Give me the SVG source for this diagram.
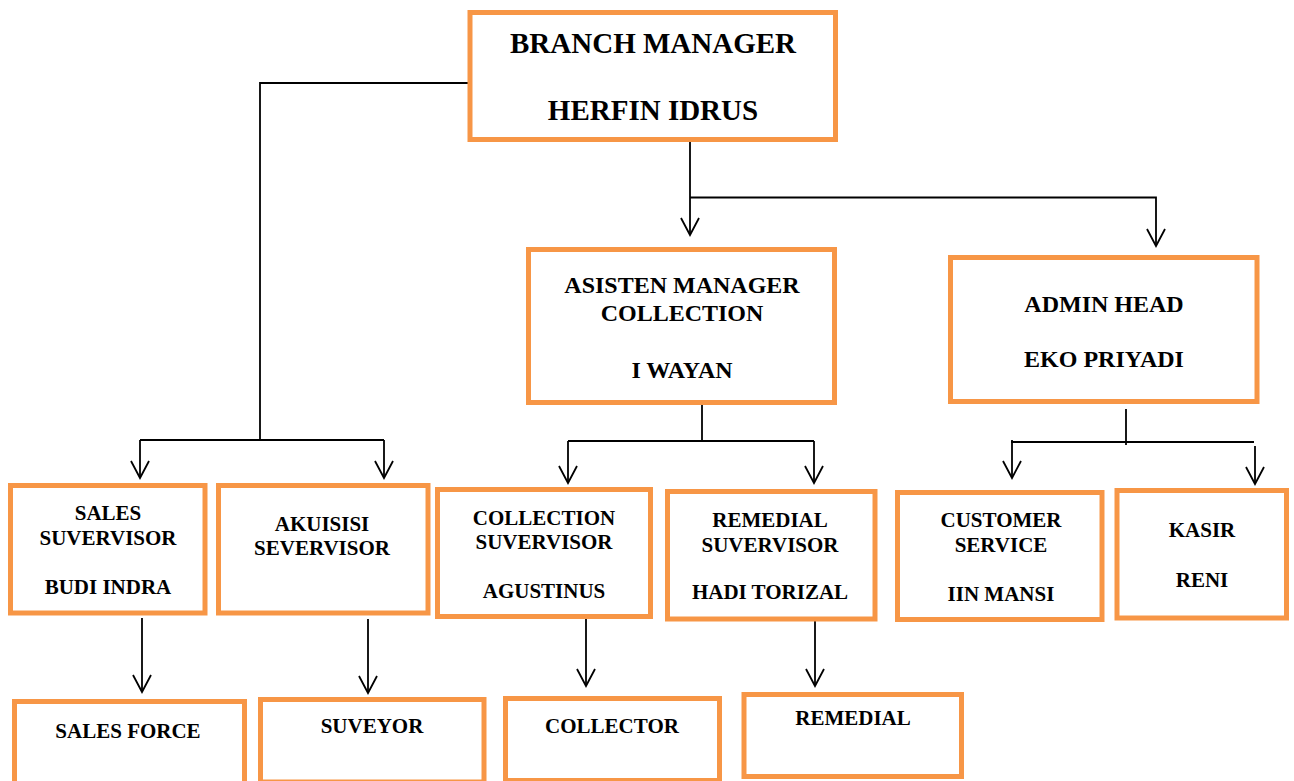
<svg xmlns="http://www.w3.org/2000/svg" width="1294" height="781" viewBox="0 0 1294 781">
<defs>
<style>
.box{fill:#ffffff;stroke:#F79646;stroke-width:5}
.t{font-family:"Liberation Serif","Times New Roman",serif;font-weight:bold;fill:#000;text-anchor:middle}
.f29{font-size:29px}
.f24{font-size:24px}
.f21{font-size:21px}
.c{fill:none;stroke:#000;stroke-width:1.8}
</style>
<marker id="arr" markerUnits="userSpaceOnUse" viewBox="-20 -12 22 24" markerWidth="22" markerHeight="24" refX="0" refY="0" orient="auto">
<path d="M-17,-9 L0,0 L-17,9" fill="none" stroke="#000" stroke-width="1.8"/>
</marker>
</defs>
<rect width="1294" height="781" fill="#ffffff"/>
<g id="connectors">
<path class="c" d="M690,139 V235" marker-end="url(#arr)"/>
<path class="c" d="M690,197.5 H1156 V246" marker-end="url(#arr)"/>
<path class="c" d="M470,83 H260 V440"/>
<path class="c" d="M140,440 H384"/>
<path class="c" d="M140,440 V478" marker-end="url(#arr)"/>
<path class="c" d="M384,440 V478" marker-end="url(#arr)"/>
<path class="c" d="M702,403 V441"/>
<path class="c" d="M568,441 H814"/>
<path class="c" d="M568,441 V483" marker-end="url(#arr)"/>
<path class="c" d="M814,441 V483" marker-end="url(#arr)"/>
<path class="c" d="M1126,409 V445"/>
<path class="c" d="M1011,442 H1254"/>
<path class="c" d="M1012,440 V478" marker-end="url(#arr)"/>
<path class="c" d="M1255,446 V484" marker-end="url(#arr)"/>
<path class="c" d="M142,618 V692" marker-end="url(#arr)"/>
<path class="c" d="M368,619 V693" marker-end="url(#arr)"/>
<path class="c" d="M586,612 V686" marker-end="url(#arr)"/>
<path class="c" d="M815,612 V686" marker-end="url(#arr)"/>
</g>
<g id="branch-manager">
<rect class="box" x="470" y="12.5" width="365.5" height="127"/>
<text class="t f29" x="653" y="53">BRANCH MANAGER</text>
<text class="t f29" x="653" y="120">HERFIN IDRUS</text>
</g>
<g id="asisten-manager">
<rect class="box" x="528.5" y="249.5" width="306" height="153"/>
<text class="t f24" x="682" y="293">ASISTEN MANAGER</text>
<text class="t f24" x="682" y="321">COLLECTION</text>
<text class="t f24" x="682" y="378">I WAYAN</text>
</g>
<g id="admin-head">
<rect class="box" x="950.5" y="257.5" width="306.5" height="144"/>
<text class="t f24" x="1104" y="312">ADMIN HEAD</text>
<text class="t f24" x="1104" y="367">EKO PRIYADI</text>
</g>
<g id="sales-suvervisor">
<rect class="box" x="10.5" y="485.5" width="194.5" height="127.5"/>
<text class="t f21" x="108" y="520">SALES</text>
<text class="t f21" x="108" y="545">SUVERVISOR</text>
<text class="t f21" x="108" y="594">BUDI INDRA</text>
</g>
<g id="akuisisi-severvisor">
<rect class="box" x="218.5" y="485.5" width="209.5" height="127.5"/>
<text class="t f21" x="322" y="531">AKUISISI</text>
<text class="t f21" x="322" y="555">SEVERVISOR</text>
</g>
<g id="collection-suvervisor">
<rect class="box" x="437.5" y="489.5" width="213" height="127"/>
<text class="t f21" x="544" y="525">COLLECTION</text>
<text class="t f21" x="544" y="549">SUVERVISOR</text>
<text class="t f21" x="544" y="598">AGUSTINUS</text>
</g>
<g id="remedial-suvervisor">
<rect class="box" x="667.5" y="491.5" width="207.5" height="127.5"/>
<text class="t f21" x="770" y="527">REMEDIAL</text>
<text class="t f21" x="770" y="552">SUVERVISOR</text>
<text class="t f21" x="770" y="599">HADI TORIZAL</text>
</g>
<g id="customer-service">
<rect class="box" x="897.5" y="492.5" width="204.5" height="127"/>
<text class="t f21" x="1001" y="527">CUSTOMER</text>
<text class="t f21" x="1001" y="552">SERVICE</text>
<text class="t f21" x="1001" y="601">IIN MANSI</text>
</g>
<g id="kasir">
<rect class="box" x="1117" y="490.5" width="169.5" height="127.5"/>
<text class="t f21" x="1202" y="537">KASIR</text>
<text class="t f21" x="1202" y="587">RENI</text>
</g>
<g id="sales-force">
<rect class="box" x="14.5" y="701.5" width="230" height="100"/>
<text class="t f21" x="128" y="738">SALES FORCE</text>
</g>
<g id="suveyor">
<rect class="box" x="260.5" y="699.5" width="223.5" height="82.5"/>
<text class="t f21" x="372" y="733">SUVEYOR</text>
</g>
<g id="collector">
<rect class="box" x="505.5" y="698.5" width="214" height="82"/>
<text class="t f21" x="612" y="733">COLLECTOR</text>
</g>
<g id="remedial">
<rect class="box" x="744" y="694.5" width="217.5" height="82"/>
<text class="t f21" x="853" y="725">REMEDIAL</text>
</g>
</svg>
